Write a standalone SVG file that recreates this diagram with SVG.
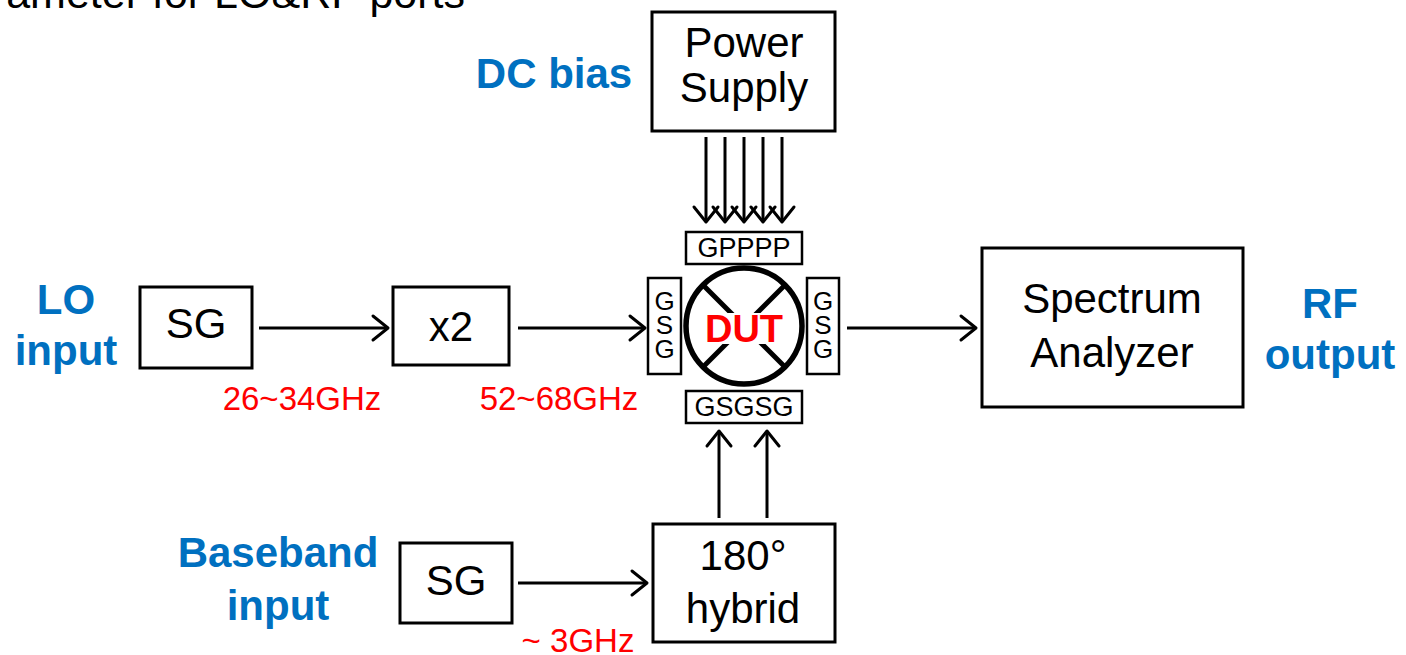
<svg xmlns="http://www.w3.org/2000/svg" width="1406" height="655" viewBox="0 0 1406 655">
<defs>
<style>
.box{fill:#fff;stroke:#000;stroke-width:3}
.pin{fill:#fff;stroke:#000;stroke-width:2.5}
.t{font-family:"Liberation Sans",Arial,sans-serif;font-size:42px;fill:#000;text-anchor:middle}
.p{font-family:"Liberation Sans",Arial,sans-serif;font-size:27px;fill:#000;text-anchor:middle}
.v{font-family:"Liberation Sans",Arial,sans-serif;font-size:26px;fill:#000;text-anchor:middle}
.b{font-family:"Liberation Sans",Arial,sans-serif;font-size:42px;font-weight:bold;fill:#0070C0;text-anchor:middle}
.r{font-family:"Liberation Sans",Arial,sans-serif;font-size:33px;fill:#FF0000;text-anchor:middle}
.c{fill:none;stroke:#000;stroke-width:3}
</style>
<marker id="ah" markerUnits="userSpaceOnUse" orient="auto" overflow="visible" markerWidth="1" markerHeight="1">
<path d="M-15,-12 L0,0 L-15,12" fill="none" stroke="#000" stroke-width="3" stroke-linejoin="round" stroke-linecap="round"/>
</marker>
</defs>
<rect width="1406" height="655" fill="#fff"/>
<text class="t" x="465" y="8" style="text-anchor:end;font-size:43px">ameter for LO&amp;RF ports</text>

<g id="labels">
<text class="b" x="554" y="88">DC bias</text>
<text class="b" x="66" y="314">LO</text>
<text class="b" x="66" y="365">input</text>
<text class="b" x="1330" y="318">RF</text>
<text class="b" x="1330" y="369">output</text>
<text class="b" x="278" y="567">Baseband</text>
<text class="b" x="278" y="620">input</text>
<text class="r" x="302" y="410">26~34GHz</text>
<text class="r" x="559" y="410">52~68GHz</text>
<text class="r" x="578" y="652">~ 3GHz</text>
</g>

<g id="connectors">
<line class="c" x1="706" y1="137" x2="706" y2="222" marker-end="url(#ah)"/>
<line class="c" x1="725" y1="137" x2="725" y2="222" marker-end="url(#ah)"/>
<line class="c" x1="744" y1="137" x2="744" y2="222" marker-end="url(#ah)"/>
<line class="c" x1="763" y1="137" x2="763" y2="222" marker-end="url(#ah)"/>
<line class="c" x1="782" y1="137" x2="782" y2="222" marker-end="url(#ah)"/>
<line class="c" x1="259" y1="328" x2="388" y2="328" marker-end="url(#ah)"/>
<line class="c" x1="518" y1="328" x2="645" y2="328" marker-end="url(#ah)"/>
<line class="c" x1="847" y1="328" x2="976" y2="328" marker-end="url(#ah)"/>
<line class="c" x1="518" y1="583" x2="647" y2="583" marker-end="url(#ah)"/>
<line class="c" x1="719" y1="518" x2="719" y2="431" marker-end="url(#ah)"/>
<line class="c" x1="767" y1="518" x2="767" y2="431" marker-end="url(#ah)"/>
</g>

<g id="power-supply">
<rect class="box" x="652" y="12" width="183" height="119"/>
<text class="t" x="744" y="57">Power</text>
<text class="t" x="744" y="102">Supply</text>
</g>

<g id="dut">
<circle cx="744" cy="326" r="58" fill="#fff" stroke="#000" stroke-width="5.5"/>
<line x1="703" y1="285" x2="785" y2="367" stroke="#000" stroke-width="5"/>
<line x1="785" y1="285" x2="703" y2="367" stroke="#000" stroke-width="5"/>
<rect x="702" y="313" width="84" height="31" fill="#fff"/>
<text x="744" y="342" style="font-family:'Liberation Sans',Arial,sans-serif;font-size:38px;font-weight:bold;fill:#FF0000;text-anchor:middle">DUT</text>
</g>

<g id="pad-top">
<rect class="pin" x="686" y="232" width="116" height="32"/>
<text class="p" x="744" y="257">GPPPP</text>
</g>
<g id="pad-bottom">
<rect class="pin" x="686" y="391" width="116" height="32"/>
<text class="p" x="744" y="416">GSGSG</text>
</g>
<g id="pad-left">
<rect class="pin" x="648" y="278" width="33" height="96"/>
<text class="v" x="664.5" y="310">G</text>
<text class="v" x="664.5" y="334">S</text>
<text class="v" x="664.5" y="358">G</text>
</g>
<g id="pad-right">
<rect class="pin" x="807" y="278" width="32" height="96"/>
<text class="v" x="823" y="310">G</text>
<text class="v" x="823" y="334">S</text>
<text class="v" x="823" y="358">G</text>
</g>

<g id="lo-sg">
<rect class="box" x="140" y="287" width="112" height="81"/>
<text class="t" x="196" y="338">SG</text>
</g>
<g id="doubler">
<rect class="box" x="393" y="287" width="116" height="78"/>
<text class="t" x="451" y="341">x2</text>
</g>
<g id="spectrum-analyzer">
<rect class="box" x="982" y="248" width="261" height="159"/>
<text class="t" x="1112" y="313">Spectrum</text>
<text class="t" x="1112" y="367">Analyzer</text>
</g>
<g id="bb-sg">
<rect class="box" x="400" y="543" width="112" height="80"/>
<text class="t" x="456" y="595">SG</text>
</g>
<g id="hybrid">
<rect class="box" x="653" y="524" width="182" height="118"/>
<text class="t" x="743" y="570">180°</text>
<text class="t" x="743" y="623">hybrid</text>
</g>
</svg>
